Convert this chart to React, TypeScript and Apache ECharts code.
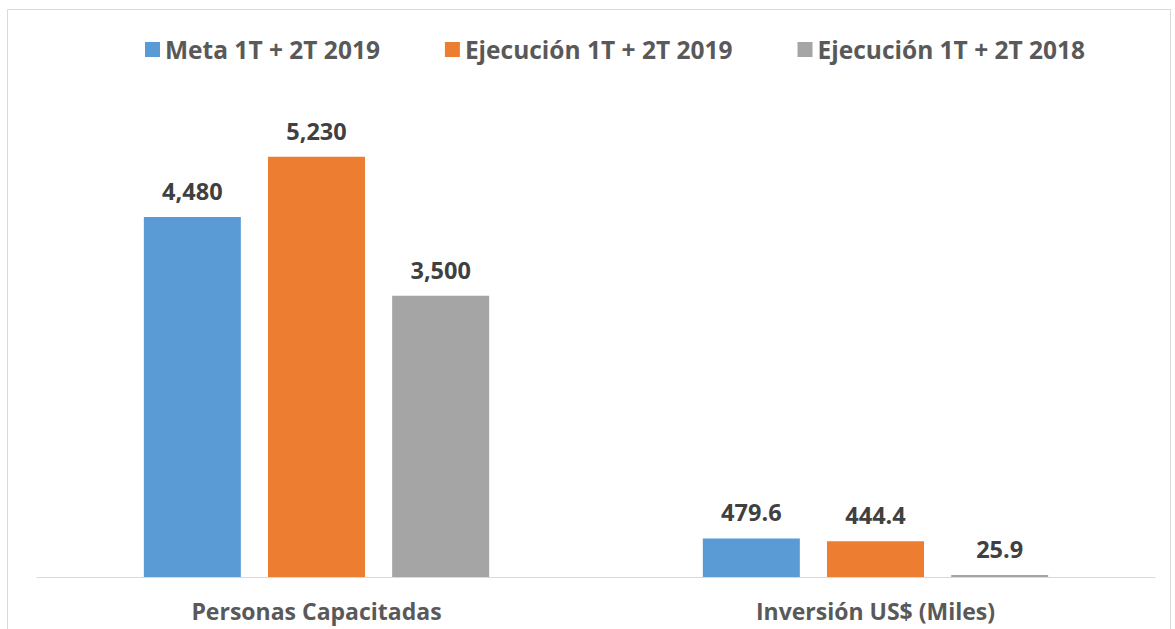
import React, { useEffect, useRef } from "react";
import * as echarts from "echarts";

const categories = ["Personas Capacitadas", "Inversión US$ (Miles)"];
const seriesNames = ["Meta 1T + 2T 2019", "Ejecución 1T + 2T 2019", "Ejecución 1T + 2T 2018"];
const meta2019 = [4480, 479.6];
const ejec2019 = [5230, 444.4];
const ejec2018 = [3500, 25.9];
const colors = ["#5B9BD5", "#ED7D31", "#A5A5A5"];

const fmt = (v: number) =>
  v >= 1000 ? v.toLocaleString("en-US") : v.toFixed(1);

export default function App() {
  const ref = useRef<HTMLDivElement>(null);
  useEffect(() => {
    const chart = echarts.init(ref.current!, null, { renderer: "svg" });
    const font = "'Open Sans', Lato, sans-serif";
    const datasets = [meta2019, ejec2019, ejec2018];
    chart.setOption({
      animation: false,
      graphic: [
        {
          type: "rect",
          shape: { x: 7.5, y: 9.5, width: 1163, height: 640 },
          style: { fill: "none", stroke: "#D9D9D9", lineWidth: 1 },
        },
      ],
      legend: {
        top: 32,
        left: 140,
        itemWidth: 15,
        itemHeight: 15,
        itemGap: 65,
        icon: "rect",
        textStyle: { fontFamily: font, fontWeight: "bold", fontSize: 24.5, color: "#595959" },
        data: seriesNames,
      },
      grid: { left: 37, right: 20, top: 95, bottom: 52 },
      xAxis: {
        type: "category",
        data: categories,
        axisLine: { lineStyle: { color: "#D9D9D9", width: 1 } },
        axisTick: { show: false },
        axisLabel: {
          margin: 22,
          fontFamily: font,
          fontWeight: "bold",
          fontSize: 23,
          color: "#595959",
        },
      },
      yAxis: {
        type: "value",
        min: 0,
        max: 6000,
        show: false,
        splitLine: { show: false },
      },
      series: datasets.map((d, i) => ({
        name: seriesNames[i],
        type: "bar",
        data: d,
        barWidth: 97,
        barGap: "28%",
        itemStyle: { color: colors[i] },
        label: {
          show: true,
          position: "top",
          distance: 14,
          fontFamily: font,
          fontWeight: "bold",
          fontSize: 23.5,
          color: "#404040",
          formatter: (p: any) => fmt(p.value),
        },
      })),
    });
    return () => chart.dispose();
  }, []);
  return (
    <div
      ref={ref}
      style={{ position: "fixed", left: 0, top: 0, width: 1175, height: 629, background: "#fff" }}
    />
  );
}
